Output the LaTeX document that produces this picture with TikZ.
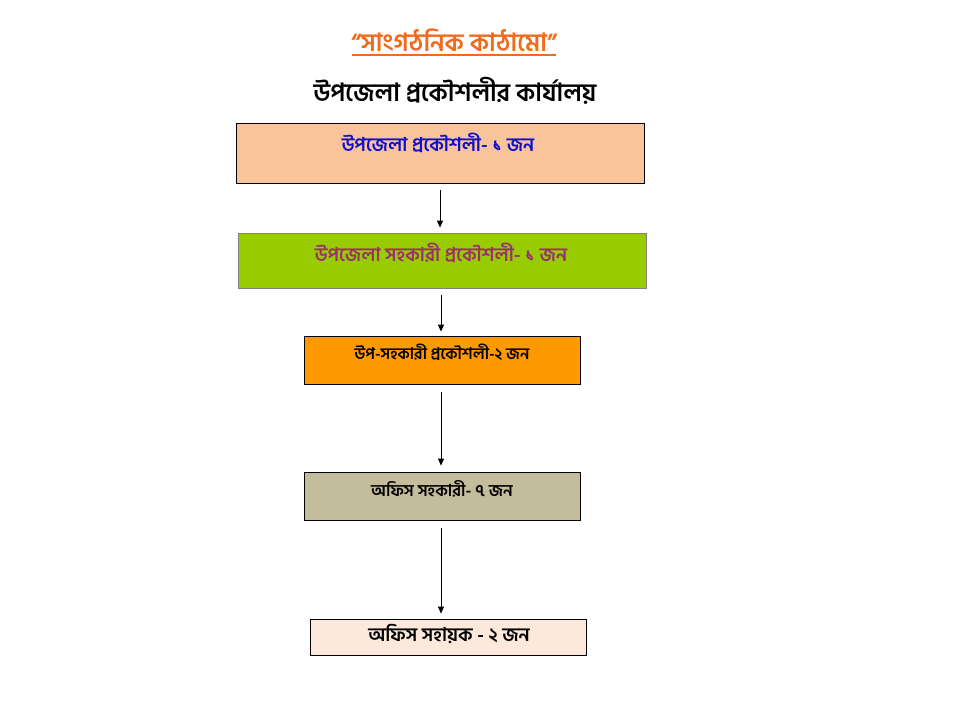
\documentclass[tikz,border=0pt]{standalone}
\usepackage{fontspec}
\newfontfamily\bn[Script=Bengali]{Hind Siliguri}
\usetikzlibrary{arrows.meta}
\definecolor{titleor}{HTML}{F26A1B}
\definecolor{peach}{HTML}{F9C39B}
\definecolor{lime}{HTML}{99CC00}
\definecolor{orng}{HTML}{FF9900}
\definecolor{khaki}{HTML}{C3BD9C}
\definecolor{lpeach}{HTML}{FCE9DB}
\definecolor{bluetx}{HTML}{1010C8}
\definecolor{maroontx}{HTML}{993366}
\tikzset{
  box/.style={draw=black, line width=0.8pt, inner sep=0pt},
  lbl/.style={font=\bn\bfseries\fontsize{19}{22}\selectfont, inner sep=0pt},
  conn/.style={-{Triangle[length=7pt,width=6pt]}, line width=0.8pt, shorten <=7pt, shorten >=5pt},
}
\begin{document}
\begin{tikzpicture}[x=1pt,y=-1pt]
\useasboundingbox (0,0) rectangle (960,720);
% title
\node[font=\bn\bfseries\fontsize{25}{29}\selectfont, text=titleor, inner sep=0pt] (title) at (454,40) {“সাংগঠনিক কাঠামো”};
\draw[titleor, line width=2pt] (352,55) -- (556,55);
\node[font=\bn\bfseries\fontsize{25}{29}\selectfont, inner sep=0pt] (sub) at (455,91) {উপজেলা প্রকৌশলীর কার্যালয়};
% boxes
\node[box, fill=peach, minimum width=408pt, minimum height=60pt] (b1) at (440,153) {};
\node[box, draw=gray, fill=lime, minimum width=408pt, minimum height=55pt] (b2) at (442,260.5) {};
\node[box, fill=orng, minimum width=276pt, minimum height=48pt] (b3) at (442,360) {};
\node[box, fill=khaki, minimum width=276pt, minimum height=48pt] (b4) at (442,496) {};
\node[box, fill=lpeach, minimum width=276pt, minimum height=36pt] (b5) at (448,637) {};
% labels
\node[lbl, text=bluetx] (t1) at (438,143) {উপজেলা প্রকৌশলী- ১ জন};
\node[lbl, text=maroontx] (t2) at (441,253) {উপজেলা সহকারী প্রকৌশলী- ১ জন};
\node[lbl, font=\bn\bfseries\fontsize{16}{19}\selectfont] (t3) at (442,352) {উপ-সহকারী প্রকৌশলী-২ জন};
\node[lbl, font=\bn\bfseries\fontsize{16.5}{19}\selectfont] (t4) at (442,489) {অফিস সহকারী- ৭ জন};
\node[lbl] (t5) at (449,634) {অফিস সহায়ক - ২ জন};
% connectors
\draw[conn] (b1.south) -- (b1.south |- b2.north);
\draw[conn, shorten >=4pt] ([xshift=-1pt]b2.south) -- ([xshift=-1pt]b2.south |- b3.north);
\draw[conn, shorten <=8pt, shorten >=6pt] ([xshift=-1pt]b3.south) -- ([xshift=-1pt]b3.south |- b4.north);
\draw[conn, shorten <=8pt] ([xshift=-1pt]b4.south) -- ([xshift=-1pt]b4.south |- b5.north);
\end{tikzpicture}
\end{document}
